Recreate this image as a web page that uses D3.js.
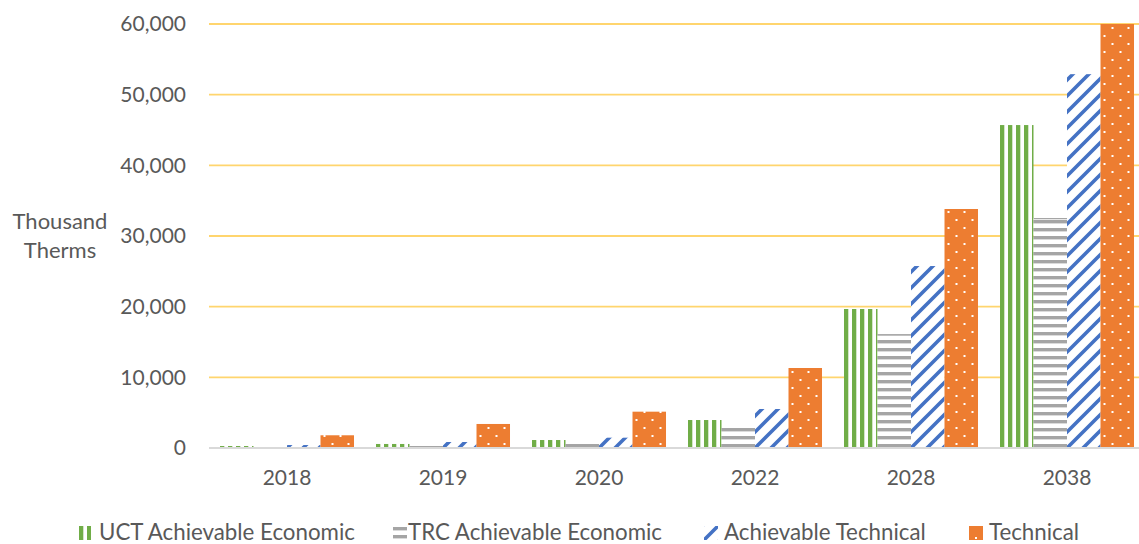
<!DOCTYPE html>
<html>
<head>
<meta charset="utf-8">
<script src="https://cdn.jsdelivr.net/npm/d3@7"></script>
<style>
  html, body { margin: 0; padding: 0; background: #fff; }
  svg { display: block; }
  text { font-family: Lato, "Open Sans", sans-serif; fill: #595959; }
</style>
</head>
<body>
<svg id="chart" width="1139" height="544"></svg>
<script>
// Savings potential by year, thousand therms
const years = ["2018", "2019", "2020", "2022", "2028", "2038"];
const seriesNames = ["UCT Achievable Economic", "TRC Achievable Economic", "Achievable Technical", "Technical"];
const uctAchievable = [280, 570, 1130, 3960, 19670, 45700];
const trcAchievable = [140, 280, 570, 2830, 16090, 32550];
const achievableTechnical = [420, 850, 1460, 5520, 25750, 52900];
const technical = [1800, 3400, 5140, 11320, 33820, 60000];
const yTicks = [0, 10000, 20000, 30000, 40000, 50000, 60000];

const seriesValues = [uctAchievable, trcAchievable, achievableTechnical, technical];
const seriesKeys = ["uct", "trc", "at", "tech"];

const svg = d3.select("#chart");
const defs = svg.append("defs");

const plotLeft = 209, plotRight = 1145, plotTop = 24, plotBottom = 448;

const x0 = d3.scaleBand().domain(years).range([plotLeft, plotRight])
  .paddingInner(0.141).paddingOuter(0.0705);
const x1 = d3.scaleBand().domain(seriesKeys).range([0, x0.bandwidth()]).padding(0);
const y = d3.scaleLinear().domain([0, 60000]).range([plotBottom, plotTop]);

// Pattern builders: each tile starts at the given origin
function makePattern(id, key, ox, oy) {
  let p;
  if (key === "uct") {
    p = defs.append("pattern").attr("id", id).attr("patternUnits", "userSpaceOnUse")
      .attr("x", ox).attr("y", oy).attr("width", 8).attr("height", 8);
    p.append("rect").attr("width", 8).attr("height", 8).attr("fill", "#fff");
    p.append("rect").attr("x", 0).attr("width", 4.3).attr("height", 8).attr("fill", "#70AD47");
  } else if (key === "trc") {
    p = defs.append("pattern").attr("id", id).attr("patternUnits", "userSpaceOnUse")
      .attr("x", ox).attr("y", oy).attr("width", 8).attr("height", 8);
    p.append("rect").attr("width", 8).attr("height", 8).attr("fill", "#fff");
    p.append("rect").attr("y", 0).attr("width", 8).attr("height", 3.4).attr("fill", "#A5A5A5");
  } else if (key === "at") {
    p = defs.append("pattern").attr("id", id).attr("patternUnits", "userSpaceOnUse")
      .attr("x", ox).attr("y", oy).attr("width", 16).attr("height", 16);
    p.append("rect").attr("width", 16).attr("height", 16).attr("fill", "#fff");
    p.append("path").attr("d", "M-4,20 L20,-4 M-12,12 L12,-12 M4,28 L28,4")
      .attr("stroke", "#4472C4").attr("stroke-width", 3.6).attr("fill", "none");
  } else {
    p = defs.append("pattern").attr("id", id).attr("patternUnits", "userSpaceOnUse")
      .attr("x", ox).attr("y", oy).attr("width", 16).attr("height", 16);
    p.append("rect").attr("width", 16).attr("height", 16).attr("fill", "#ED7D31");
    p.append("rect").attr("x", 3).attr("y", 3).attr("width", 2).attr("height", 2).attr("fill", "#fff");
    p.append("rect").attr("x", 11).attr("y", 11).attr("width", 2).attr("height", 2).attr("fill", "#fff");
  }
  return "url(#" + id + ")";
}

// Horizontal gridlines
svg.append("g").selectAll("line")
  .data(yTicks.filter(d => d > 0))
  .join("line")
  .attr("x1", plotLeft).attr("x2", plotRight)
  .attr("y1", d => y(d)).attr("y2", d => y(d))
  .attr("stroke", "#FFD56E").attr("stroke-width", 1.8);

// Bars
const bars = [];
years.forEach((yr, i) => {
  seriesKeys.forEach((k, s) => {
    bars.push({ year: yr, key: k, s: s, value: seriesValues[s][i] });
  });
});

const barG = svg.append("g");
barG.selectAll("rect")
  .data(bars)
  .join("rect")
  .attr("x", d => x0(d.year) + x1(d.key))
  .attr("y", d => y(d.value))
  .attr("width", x1.bandwidth())
  .attr("height", d => y(0) - y(d.value))
  .attr("fill", (d, i) => makePattern("bar" + i, d.key, x0(d.year) + x1(d.key), d.key === "trc" ? 4 : 0));

// Thin top edge on the striped grey bars
barG.selectAll("line.edge")
  .data(bars.filter(d => d.key === "trc"))
  .join("line")
  .attr("class", "edge")
  .attr("x1", d => x0(d.year) + x1(d.key))
  .attr("x2", d => x0(d.year) + x1(d.key) + x1.bandwidth())
  .attr("y1", d => y(d.value) + 0.6).attr("y2", d => y(d.value) + 0.6)
  .attr("stroke", "#A5A5A5").attr("stroke-width", 1.2);

// Baseline
svg.append("line")
  .attr("x1", plotLeft).attr("x2", plotRight)
  .attr("y1", y(0)).attr("y2", y(0))
  .attr("stroke", "#D9D9D9").attr("stroke-width", 2);

// Y axis tick labels
const yAxis = d3.axisLeft(y).tickValues(yTicks).tickFormat(d3.format(",")).tickSize(0).tickPadding(0);
const gy = svg.append("g").attr("transform", "translate(186,0)").call(yAxis);
gy.select(".domain").remove();
gy.selectAll("text").attr("font-size", 21).attr("fill", "#595959")
  .style("font-family", "Lato, 'Open Sans', sans-serif");

// X axis category labels
const xAxis = d3.axisBottom(x0).tickSize(0).tickPadding(0);
const gx = svg.append("g").attr("transform", "translate(0,470)").call(xAxis);
gx.select(".domain").remove();
gx.selectAll("text").attr("font-size", 21).attr("fill", "#595959")
  .style("font-family", "Lato, 'Open Sans', sans-serif");

// Axis title
svg.append("text").attr("x", 60).attr("y", 229).attr("text-anchor", "middle")
  .attr("font-size", 22).text("Thousand");
svg.append("text").attr("x", 60).attr("y", 258).attr("text-anchor", "middle")
  .attr("font-size", 22).text("Therms");

// Legend
const legendX = [79, 393, 704, 969];
const legendGap = [20, 15, 20, 20];
const legend = svg.append("g");
seriesKeys.forEach((k, s) => {
  const lx = legendX[s];
  let fill;
  if (k === "uct") fill = makePattern("leg" + s, k, lx, 0);
  else if (k === "trc") fill = makePattern("leg" + s, k, 0, 527);
  else if (k === "at") fill = makePattern("leg" + s, k, lx - 2, 526);
  else fill = makePattern("leg" + s, k, lx - 5, 526);
  legend.append("rect").attr("x", lx).attr("y", 526)
    .attr("width", k === "uct" ? 12 : 14).attr("height", 14).attr("fill", fill);
  legend.append("text").attr("x", lx + legendGap[s]).attr("y", 540)
    .attr("font-size", 22.3).text(seriesNames[s]);
});
</script>
</body>
</html>
